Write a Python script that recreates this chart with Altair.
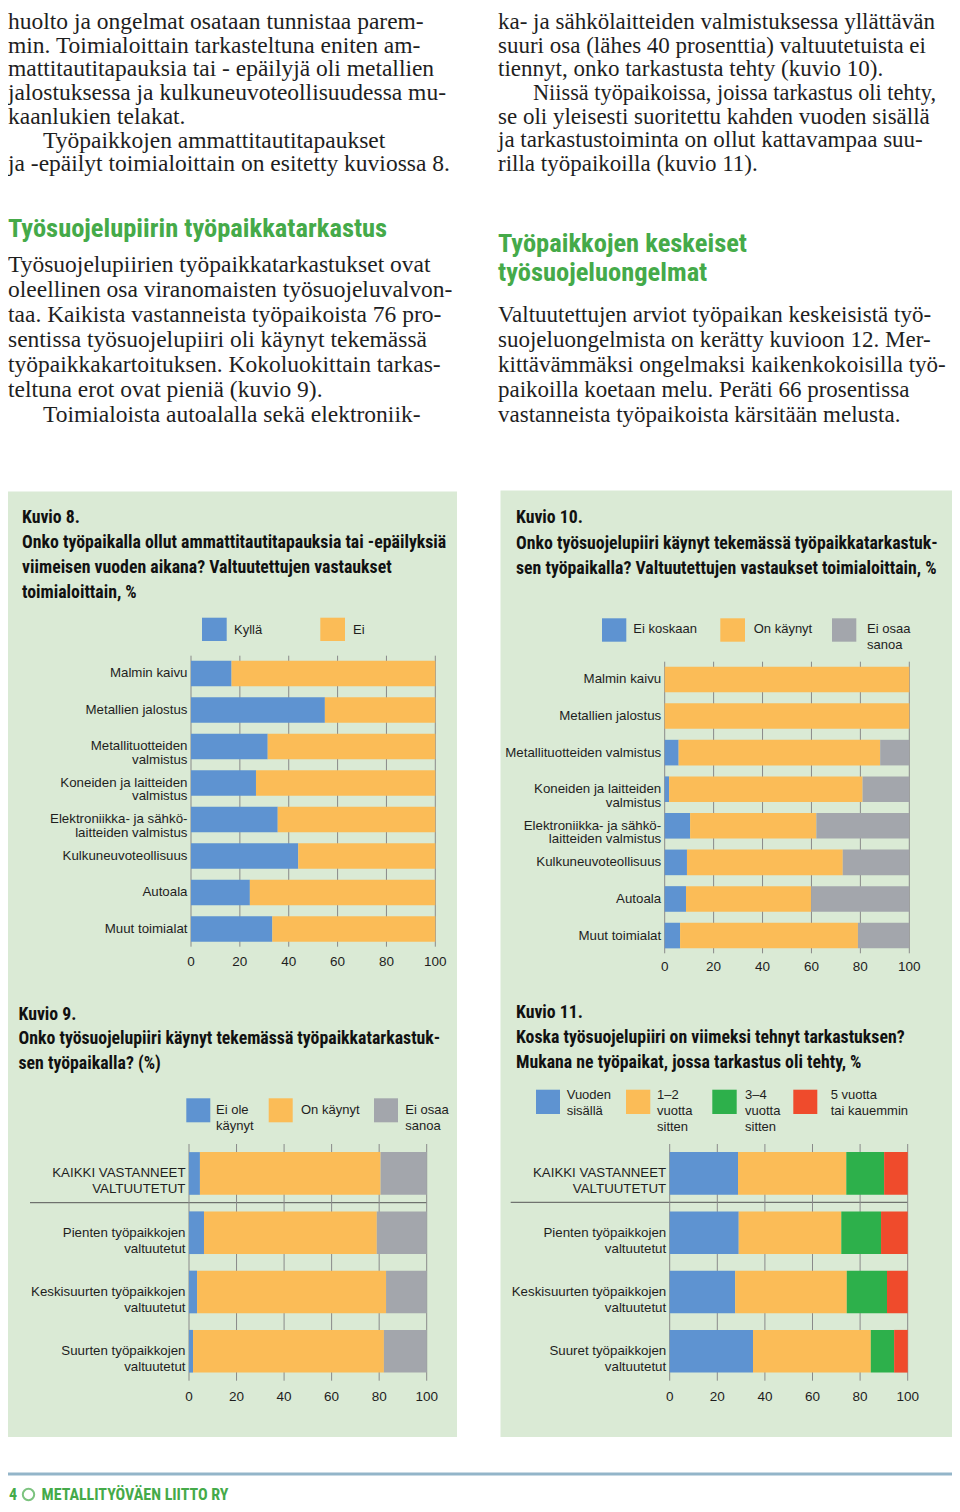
import altair as alt
import pandas as pd

# ---------------- data ----------------
x_ticks = [0, 20, 40, 60, 80, 100]

k8_categories = ["Malmin kaivu", "Metallien jalostus", "Metallituotteiden|valmistus",
                 "Koneiden ja laitteiden|valmistus", "Elektroniikka- ja sähkö-|laitteiden valmistus",
                 "Kulkuneuvoteollisuus", "Autoala", "Muut toimialat"]
k8_series = ["Kyllä", "Ei"]
k8_kylla = [16.6, 54.8, 31.4, 26.6, 35.5, 43.9, 24.1, 33.3]
k8_ei = [83.4, 45.2, 68.6, 73.4, 64.5, 56.1, 75.9, 66.7]

k10_categories = ["Malmin kaivu", "Metallien jalostus", "Metallituotteiden valmistus",
                  "Koneiden ja laitteiden|valmistus", "Elektroniikka- ja sähkö-|laitteiden valmistus",
                  "Kulkuneuvoteollisuus", "Autoala", "Muut toimialat"]
k10_series = ["Ei koskaan", "On käynyt", "Ei osaa sanoa"]
k10_ei_koskaan = [0, 0, 5.7, 1.8, 10.4, 9.1, 8.7, 6.3]
k10_on_kaynyt = [100, 100, 82.4, 79.1, 51.6, 63.7, 51.2, 72.7]
k10_ei_osaa = [0, 0, 11.9, 19.1, 38.0, 27.2, 40.1, 21.0]

k9_categories = ["KAIKKI VASTANNEET|VALTUUTETUT", "Pienten työpaikkojen|valtuutetut",
                 "Keskisuurten työpaikkojen|valtuutetut", "Suurten työpaikkojen|valtuutetut"]
k9_series = ["Ei ole käynyt", "On käynyt", "Ei osaa sanoa"]
k9_ei_ole = [4.6, 6.3, 3.4, 1.7]
k9_on_kaynyt = [76.0, 72.7, 79.5, 80.3]
k9_ei_osaa = [19.4, 21.0, 17.1, 18.0]

k11_categories = ["KAIKKI VASTANNEET|VALTUUTETUT", "Pienten työpaikkojen|valtuutetut",
                  "Keskisuurten työpaikkojen|valtuutetut", "Suuret työpaikkojen|valtuutetut"]
k11_series = ["Vuoden sisällä", "1–2 vuotta sitten", "3–4 vuotta sitten", "5 vuotta tai kauemmin"]
k11_vuoden = [28.7, 29.0, 27.5, 35.0]
k11_1_2 = [45.5, 43.1, 46.9, 49.5]
k11_3_4 = [15.9, 16.7, 16.9, 9.8]
k11_5 = [9.9, 11.2, 8.7, 5.7]

# ---------------- styles / layout ----------------
OFF = 8               # page margin (reference coords -> chart coords)
W, H = 944, 1496
BLUE, ORANGE, GRAY = "#5E93D1", "#FBBC57", "#A3A6AC"
GREEN, RED = "#2DB04B", "#EF4B2C"
PANEL = "#DAEAD5"
GRID = "#8A8A8A"
HEAD = "#45AA49"
INK = "#1E1E1E"
SERIF = "Liberation Serif, Times New Roman, serif"
COND = "Liberation Sans Narrow, Roboto Condensed, DejaVu Sans Condensed, Arial Narrow, sans-serif"
SANS = "Liberation Sans, Arial, sans-serif"
BODY_L = 23.5
BODY_R = 23
TITLE = 17.8


def v(px):
    return alt.value(px - OFF)


def text_block(x, y, lines, size, font, color=INK, weight="normal", lh=None, align="left"):
    props = dict(align=align, baseline="alphabetic", font=font, fontSize=size,
                 fontWeight=weight, color=color)
    if lh is not None:
        props["lineHeight"] = lh
    return alt.Chart().mark_text(**props).encode(x=v(x), y=v(y), text=alt.value(lines))


def rect(x0, y0, x1, y1, color):
    return alt.Chart().mark_rect(color=color).encode(x=v(x0), x2=v(x1), y=v(y0), y2=v(y1))


def hrule(x0, x1, y, color, width=1):
    return alt.Chart().mark_rule(color=color, strokeWidth=width).encode(x=v(x0), x2=v(x1), y=v(y))


def bar_chart(cats, series, cols, colors, xr, yr, pad_in, pad_out, lab_size, lab_lh, tick_y):
    rows = []
    for i, c in enumerate(cats):
        for j, s in enumerate(series):
            rows.append({"cat": c, "series": s, "idx": j, "value": cols[j][i]})
    df = pd.DataFrame(rows)
    ticks_df = pd.DataFrame({"t": x_ticks})
    xs = alt.Scale(domain=[0, 100], range=[xr[0] - OFF, xr[1] - OFF], nice=False, zero=False)
    ys = alt.Scale(domain=cats, range=[yr[0] - OFF, yr[1] - OFF],
                   paddingInner=pad_in, paddingOuter=pad_out)
    grid = alt.Chart(ticks_df).mark_rule(color=GRID, strokeWidth=1).encode(
        x=alt.X("t:Q", scale=xs, axis=None),
        y=v(yr[0]), y2=v(yr[1]))
    tick_labels = alt.Chart(ticks_df).mark_text(
        font=SANS, fontSize=13.5, color=INK, baseline="middle", align="center").encode(
        x=alt.X("t:Q", scale=xs, axis=None), y=v(tick_y), text=alt.Text("t:Q"))
    bars = alt.Chart(df).mark_bar().encode(
        x=alt.X("value:Q", stack="zero", scale=xs, axis=None),
        y=alt.Y("cat:N", sort=cats, scale=ys,
                axis=alt.Axis(orient="left", offset=-(xr[0] - OFF), title=None, grid=False,
                              domain=False, ticks=False, tickSize=0, labelPadding=4,
                              labelExpr="split(datum.label, '|')", labelFont=SANS,
                              labelFontSize=lab_size, labelLineHeight=lab_lh,
                              labelColor=INK, labelOverlap=False, labelLimit=300, zindex=2)),
        color=alt.Color("series:N", scale=alt.Scale(domain=series, range=colors), legend=None),
        order=alt.Order("idx:Q"))
    return alt.layer(grid, bars, tick_labels)


def legend(items, y0, y1, lab_y, lab_lh=16):
    # items: (swatch_x0, swatch_x1, label_x, label_lines, color)
    out = []
    for sx0, sx1, lx, lines, col in items:
        out.append(rect(sx0, y0, sx1, y1, col))
        out.append(text_block(lx, lab_y, lines, 13, SANS, lh=lab_lh))
    return out


layers = []
# panels
layers.append(rect(3.5, 491.5, 457, 1437, PANEL))
layers.append(rect(500.5, 490.5, 954.5, 1437, PANEL))

# body text, left column
layers.append(text_block(8, 29, ["huolto ja ongelmat osataan tunnistaa parem-",
                                 "min. Toimialoittain tarkasteltuna eniten am-",
                                 "mattitautitapauksia tai - epäilyjä oli metallien",
                                 "jalostuksessa ja kulkuneuvoteollisuudessa mu-",
                                 "kaanlukien telakat."], BODY_L, SERIF, lh=23.7))
layers.append(text_block(43, 147.5, "Työpaikkojen ammattitautitapaukset", BODY_L, SERIF))
layers.append(text_block(8, 171.2, "ja -epäilyt toimialoittain on esitetty kuviossa 8.", BODY_L, SERIF))
layers.append(text_block(8, 237, "Työsuojelupiirin työpaikkatarkastus", 26.5, COND, color=HEAD, weight="bold"))
layers.append(text_block(8, 272, ["Työsuojelupiirien työpaikkatarkastukset ovat",
                                  "oleellinen osa viranomaisten työsuojeluvalvon-",
                                  "taa. Kaikista vastanneista työpaikoista 76 pro-",
                                  "sentissa työsuojelupiiri oli käynyt tekemässä",
                                  "työpaikkakartoituksen.  Kokoluokittain tarkas-",
                                  "teltuna erot ovat pieniä (kuvio 9)."], BODY_L, SERIF, lh=25))
layers.append(text_block(43, 422, "Toimialoista autoalalla sekä elektroniik-", BODY_L, SERIF))

# body text, right column
layers.append(text_block(498, 29, ["ka- ja sähkölaitteiden valmistuksessa yllättävän",
                                   "suuri osa (lähes 40 prosenttia) valtuutetuista  ei",
                                   "tiennyt, onko tarkastusta tehty (kuvio 10)."], BODY_R, SERIF, lh=23.7))
layers.append(text_block(533, 100.1, "Niissä työpaikoissa, joissa tarkastus oli tehty,", 22.3, SERIF))
layers.append(text_block(498, 123.8, ["se oli yleisesti suoritettu kahden vuoden sisällä",
                                      "ja tarkastustoiminta on ollut kattavampaa suu-",
                                      "rilla työpaikoilla (kuvio 11)."], BODY_R, SERIF, lh=23.7))
layers.append(text_block(498, 252, ["Työpaikkojen keskeiset", "työsuojeluongelmat"], 26.5, COND,
                         color=HEAD, weight="bold", lh=29))
layers.append(text_block(498, 322, ["Valtuutettujen arviot työpaikan keskeisistä työ-",
                                    "suojeluongelmista on kerätty kuvioon 12. Mer-",
                                    "kittävämmäksi ongelmaksi kaikenkokoisilla työ-",
                                    "paikoilla koetaan melu. Peräti 66 prosentissa",
                                    "vastanneista työpaikoista kärsitään melusta."], BODY_R, SERIF, lh=25))

# chart titles
layers.append(text_block(22, 523, ["Kuvio 8.",
                                   "Onko työpaikalla ollut ammattitautitapauksia tai -epäilyksiä",
                                   "viimeisen vuoden aikana? Valtuutettujen vastaukset",
                                   "toimialoittain, %"], TITLE, COND, color="#111", weight="bold", lh=25))
layers.append(text_block(516, 523, ["Kuvio 10.",
                                    "Onko työsuojelupiiri käynyt tekemässä työpaikkatarkastuk-",
                                    "sen työpaikalla? Valtuutettujen vastaukset toimialoittain, %"],
                         TITLE, COND, color="#111", weight="bold", lh=25.5))
layers.append(text_block(18.5, 1019.5, ["Kuvio 9.",
                                        "Onko työsuojelupiiri käynyt tekemässä työpaikkatarkastuk-",
                                        "sen työpaikalla? (%)"], TITLE, COND, color="#111", weight="bold", lh=24.5))
layers.append(text_block(516, 1018, ["Kuvio 11.",
                                     "Koska työsuojelupiiri on viimeksi tehnyt tarkastuksen?",
                                     "Mukana ne työpaikat, jossa tarkastus oli tehty, %"],
                         TITLE, COND, color="#111", weight="bold", lh=25))

# legends
layers += legend([(202, 226.7, 234, "Kyllä", BLUE), (320.3, 345, 353, "Ei", ORANGE)],
                 617.7, 641, 633.5)
layers += legend([(602, 626.3, 633.3, "Ei koskaan", BLUE), (720.3, 745, 753.7, "On käynyt", ORANGE),
                  (832, 856.3, 867, ["Ei osaa", "sanoa"], GRAY)], 618.3, 641.7, 632.8)
layers += legend([(186.3, 210.3, 216, ["Ei ole", "käynyt"], BLUE), (268.7, 292.7, 301, "On käynyt", ORANGE),
                  (374, 398, 405.3, ["Ei osaa", "sanoa"], GRAY)], 1098.3, 1122.3, 1113.5)
layers += legend([(536, 560, 566.7, ["Vuoden", "sisällä"], BLUE),
                  (626, 650.3, 657, ["1–2", "vuotta", "sitten"], ORANGE),
                  (712.3, 736.7, 745, ["3–4", "vuotta", "sitten"], GREEN),
                  (793.3, 817.3, 830.7, ["5 vuotta", "tai kauemmin"], RED)], 1089.7, 1114, 1098.8)

# separators in Kuvio 9 and 11
layers.append(hrule(30, 426.7, 1202.7, "#555555"))
layers.append(hrule(510.7, 907.7, 1202.3, "#555555"))

# footer
layers.append(hrule(0, 954, 1474, "#93B5C9", 3))
layers.append(text_block(9, 1500, "4", 16, COND, color=HEAD, weight="bold"))
layers.append(alt.Chart().mark_point(shape="circle", filled=False, size=130, strokeWidth=2,
                                     color=HEAD).encode(x=v(28.5), y=v(1494.5)))
layers.append(text_block(41.5, 1500, "METALLITYÖVÄEN LIITTO RY", 16, COND, color=HEAD, weight="bold"))

# charts
c8 = bar_chart(k8_categories, k8_series, [k8_kylla, k8_ei], [BLUE, ORANGE],
               (191, 435.3), (655.7, 946.7), 0.30, 0.135, 13.3, 13.5, 961.5)
c10 = bar_chart(k10_categories, k10_series, [k10_ei_koskaan, k10_on_kaynyt, k10_ei_osaa],
                [BLUE, ORANGE, GRAY], (664.7, 909.3), (661.7, 953.3), 0.30, 0.135, 13.3, 13.5, 967.3)
c9 = bar_chart(k9_categories, k9_series, [k9_ei_ole, k9_on_kaynyt, k9_ei_osaa],
               [BLUE, ORANGE, GRAY], (189, 426.7), (1144, 1380.7), 0.28, 0.137, 13.3, 16, 1397.3)
c11 = bar_chart(k11_categories, k11_series, [k11_vuoden, k11_1_2, k11_3_4, k11_5],
                [BLUE, ORANGE, GREEN, RED], (669.7, 907.7), (1144, 1380.7), 0.28, 0.137, 13.3, 16, 1397.3)

chart = alt.layer(*layers, c8, c10, c9, c11, data=pd.DataFrame({"d": [0]})).resolve_scale(
    x="independent", y="independent", color="independent"
).properties(
    width=W, height=H, autosize=alt.AutoSizeParams(type="none"), padding=0, background="white"
).configure_view(strokeWidth=0)

chart.save("out.html", embed_options={"renderer": "svg", "actions": False})
